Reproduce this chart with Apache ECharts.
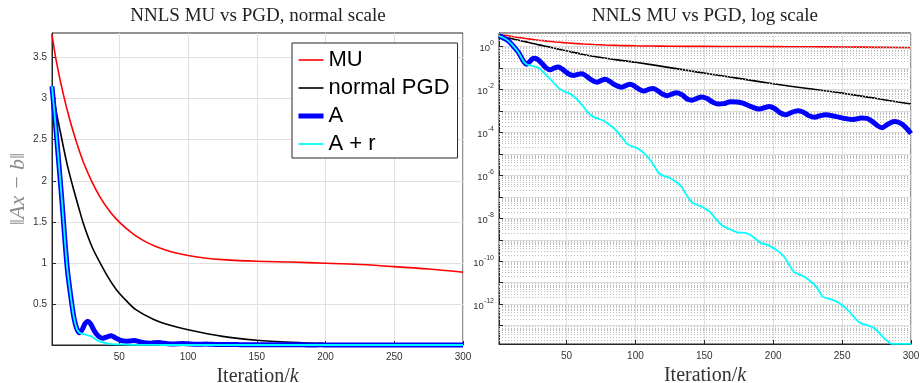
<!DOCTYPE html>
<html><head><meta charset="utf-8">
<script src="https://cdn.jsdelivr.net/npm/echarts@6/dist/echarts.min.js"></script>
<style>html,body{margin:0;padding:0;background:#fff}#c{width:920px;height:383px}</style>
</head><body><div id="c"></div>
<script>
// ---- data ----
const muIter = [1,4,9,14,19,24,30,36,42,48,55,62,70,78,87,100,112,125,150,175,200,225,250,275,300];
const muVal  = [3.78,3.47,3.07,2.74,2.46,2.22,1.99,1.80,1.65,1.53,1.42,1.33,1.25,1.19,1.14,1.09,1.06,1.04,1.02,1.01,0.996,0.98,0.955,0.925,0.886];

const pgdIter = [1,4,7,12,16,20,24,30,36,42,48,55,62,75,87,100,125,150,175,200,225,250,275,300];
const pgdVal  = [3.15,2.85,2.6,2.2,1.94,1.7,1.47,1.2,1.0,0.82,0.67,0.54,0.43,0.31,0.24,0.186,0.105,0.058,0.033,0.0185,0.0112,0.0068,0.0038,0.0021];

const aIter = [1,4,8,12,15,17,19,21,23,25,27,29,32,35,38,41,44,47,51,55,58,61,64,68,72,75,78,81,85,90,93,96,99,102,106,110,113,116,120,123,127,130,134,138,141,145,148,152,156,160,164,169,174,178,184,190,194,197,201,205,209,213,218,222,226,230,234,238,245,252,258,264,268,272,276,279,283,288,292,296,300];
const aVal  = [3.15,2.6,1.8,0.95,0.55,0.33,0.2,0.15,0.19,0.26,0.29,0.26,0.166,0.105,0.083,0.1,0.112,0.089,0.056,0.045,0.05,0.055,0.044,0.028,0.022,0.026,0.030,0.025,0.0166,0.0129,0.0151,0.0178,0.0151,0.011,0.0085,0.0105,0.0112,0.0089,0.006,0.0052,0.0063,0.0071,0.0056,0.0035,0.0032,0.004,0.0045,0.0038,0.0026,0.0021,0.0022,0.0027,0.0026,0.0023,0.0016,0.00123,0.00145,0.0016,0.0013,0.00083,0.00066,0.00085,0.00102,0.00087,0.0006,0.00051,0.0006,0.00066,0.00056,0.00045,0.0004,0.00047,0.00045,0.00032,0.0002,0.000166,0.00024,0.00032,0.00028,0.000178,0.000089];

const arIter = [1,4,8,12,15,17,19,21,24,27,30,34,38,42,45,48,52,55,58,62,66,69,73,77,80,84,88,91,94,98,102,106,110,114,117,121,125,129,133,137,141,145,150,154,158,163,168,174,180,184,188,191,196,200,204,208,211,215,219,223,226,230,233,236,240,244,248,252,256,260,263,268,273,277,280,283,286,300];
const arVal  = [3.15,2.6,1.8,0.95,0.55,0.33,0.2,0.15,0.132,0.117,0.1,0.056,0.0316,0.0166,0.0107,0.0083,0.0066,0.005,0.0033,0.00166,7.9e-4,5.5e-4,4.4e-4,3.5e-4,2.6e-4,1.66e-4,8.9e-5,5.0e-5,2.95e-5,2.2e-5,1.74e-5,1.12e-5,6.0e-6,2.5e-6,1.26e-6,9.3e-7,7.6e-7,5.2e-7,3.2e-7,1.26e-7,5.5e-8,4.2e-8,3.0e-8,2.0e-8,1.0e-8,4.6e-9,3.2e-9,2.24e-9,2.1e-9,1.58e-9,1.0e-9,7.2e-10,5.6e-10,4.2e-10,2.8e-10,1.58e-10,7.9e-11,3.2e-11,2.4e-11,1.86e-11,1.32e-11,7.9e-12,4.5e-12,2.2e-12,1.82e-12,1.51e-12,1.12e-12,7.1e-13,4.0e-13,2.0e-13,1.35e-13,1.05e-13,7.9e-14,4.5e-14,2.8e-14,1.9e-14,1.41e-14,1.41e-14];

// ---- ticks ----
const xTicks = [50,100,150,200,250,300];
const linTicks = [0.5,1,1.5,2,2.5,3,3.5];
const logLabelTicks = [1e-12,1e-10,1e-8,1e-6,1e-4,1e-2,1];
const logMajorTicks = [1e-13,1e-12,1e-11,1e-10,1e-9,1e-8,1e-7,1e-6,1e-5,1e-4,1e-3,1e-2,1e-1,1];
const logMin = 1.4e-14, logMax = 4.3;
const minorMult = [2,3,4,5,6,7,8,9];

const minorVals = [];
logMajorTicks.concat([1e-14]).forEach(d => minorMult.forEach(m => {
  const v = +(m * d).toPrecision(3);
  if (v > logMin && v < logMax) minorVals.push(v);
}));

const pairs = (xs, ys) => xs.map((x, i) => [x, ys[i]]);

const axisColor = '#262626';
const labelFont = {fontFamily: 'Liberation Sans', fontSize: 10, color: '#333'};

function xAx(gi) {
  return {
    type: 'value', gridIndex: gi, min: 1, max: 300,
    axisLine: {show: true, onZero: false, lineStyle: {color: axisColor, width: 1}},
    axisTick: {show: true, inside: true, length: 4, customValues: xTicks, lineStyle: {color: axisColor}},
    axisLabel: Object.assign({customValues: xTicks, margin: 7}, labelFont),
    splitLine: {show: true, lineStyle: {color: '#e0e0e0', width: 1}},
    name: '{a|Iteration/}{b|k}', nameLocation: 'middle', nameGap: 13,
    nameTextStyle: {rich: {
      a: {fontFamily: 'Liberation Serif', fontSize: 20, color: '#333'},
      b: {fontFamily: 'Liberation Serif', fontStyle: 'italic', fontSize: 20, color: '#333'}
    }}
  };
}

function line(name, xs, ys, color, width, idx, z) {
  return {
    name, type: 'line', xAxisIndex: idx, yAxisIndex: idx,
    data: pairs(xs, ys), symbol: 'none', showSymbol: false,
    smooth: 0.3, clip: false, z,
    lineStyle: {color, width, cap: 'butt'}, itemStyle: {color, opacity: 0}
  };
}

const chart = echarts.init(document.getElementById('c'), null, {renderer: 'canvas'});
const option = {
  animation: false,
  backgroundColor: '#fff',
  graphic: [
    {type: 'text', x: 258, y: 16, silent: true, style: {text: 'NNLS MU vs PGD, normal scale', font: '19px "Liberation Serif"', fill: '#222', align: 'center', verticalAlign: 'middle'}},
    {type: 'text', x: 705, y: 16, silent: true, style: {text: 'NNLS MU vs PGD, log scale', font: '19px "Liberation Serif"', fill: '#222', align: 'center', verticalAlign: 'middle'}}
  ],
  grid: [
    {left: 52, right: 457, top: 33, bottom: 38, show: true, borderColor: axisColor, borderWidth: 1, backgroundColor: '#fff', outerBoundsMode: 'none'},
    {left: 499, right: 9, top: 33, bottom: 39, show: true, borderColor: axisColor, borderWidth: 1, backgroundColor: '#fff', outerBoundsMode: 'none'}
  ],
  legend: {
    data: [
      {name: 'MU', lineStyle: {width: 1.6}},
      {name: 'normal PGD', lineStyle: {width: 1.6}},
      {name: 'A', lineStyle: {width: 5}},
      {name: 'A + r', lineStyle: {width: 1.8}}
    ],
    orient: 'vertical', left: 292, top: 43,
    itemWidth: 25, itemHeight: 14, itemGap: 6,
    padding: [6, 8, 3, 4],
    backgroundColor: '#fff', borderColor: '#262626', borderWidth: 1,
    itemStyle: {opacity: 0},
    textStyle: {fontFamily: 'Liberation Sans', fontSize: 22, lineHeight: 22, color: '#000'},
    selectedMode: false
  },
  xAxis: [xAx(0), xAx(1)],
  yAxis: [
    {
      type: 'value', gridIndex: 0, min: 0, max: 3.8,
      axisLine: {show: true, onZero: false, lineStyle: {color: axisColor}},
      axisTick: {show: true, inside: true, length: 4, customValues: linTicks, lineStyle: {color: axisColor}},
      axisLabel: Object.assign({customValues: linTicks, margin: 5}, labelFont),
      splitLine: {show: true, lineStyle: {color: '#e0e0e0'}},
      name: '‖Ax − b‖', nameLocation: 'middle', nameGap: 18, nameRotate: 90,
      nameTextStyle: {fontFamily: 'Liberation Serif', fontStyle: 'italic', fontSize: 22, color: '#8a8a8a'}
    },
    {
      type: 'log', logBase: 10, gridIndex: 1, min: logMin, max: logMax,
      axisLine: {show: true, onZero: false, lineStyle: {color: axisColor}},
      axisTick: {show: true, inside: true, length: 4, customValues: logMajorTicks, lineStyle: {color: axisColor}},
      axisLabel: {
        customValues: logLabelTicks, margin: 5,
        formatter: v => '{b|10}{s|' + Math.round(Math.log10(v)) + '}',
        rich: {
          b: {fontFamily: 'Liberation Sans', fontSize: 9.5, color: '#333', lineHeight: 14, verticalAlign: 'bottom'},
          s: {fontFamily: 'Liberation Sans', fontSize: 7, color: '#333', lineHeight: 14, verticalAlign: 'top'}
        }
      },
      splitLine: {show: true, lineStyle: {color: '#dcdcdc'}}
    }
  ],
  series: [
    {
      name: 'minorgrid', type: 'line', xAxisIndex: 1, yAxisIndex: 1,
      data: [[1, 1]], symbol: 'none', silent: true, z: 1,
      lineStyle: {opacity: 0},
      markLine: {
        silent: true, symbol: ['none', 'none'], label: {show: false}, precision: 20,
        lineStyle: {type: [1, 2], color: '#bdbdbd', width: 1},
        emphasis: {disabled: true},
        data: minorVals.map(v => ({yAxis: v}))
      }
    },
    line('MU', muIter, muVal, '#ff0000', 1.6, 0, 3),
    line('normal PGD', pgdIter, pgdVal, '#000000', 1.6, 0, 4),
    line('A', aIter, aVal, '#0000ff', 5, 0, 5),
    line('A + r', arIter, arVal, '#00ffff', 1.8, 0, 6),
    line('MU', muIter, muVal, '#ff0000', 1.6, 1, 3),
    line('normal PGD', pgdIter, pgdVal, '#000000', 1.6, 1, 4),
    line('A', aIter, aVal, '#0000ff', 5, 1, 5),
    line('A + r', arIter, arVal, '#00ffff', 1.8, 1, 6)
  ]
};
chart.setOption(option);
</script>
</body></html>
